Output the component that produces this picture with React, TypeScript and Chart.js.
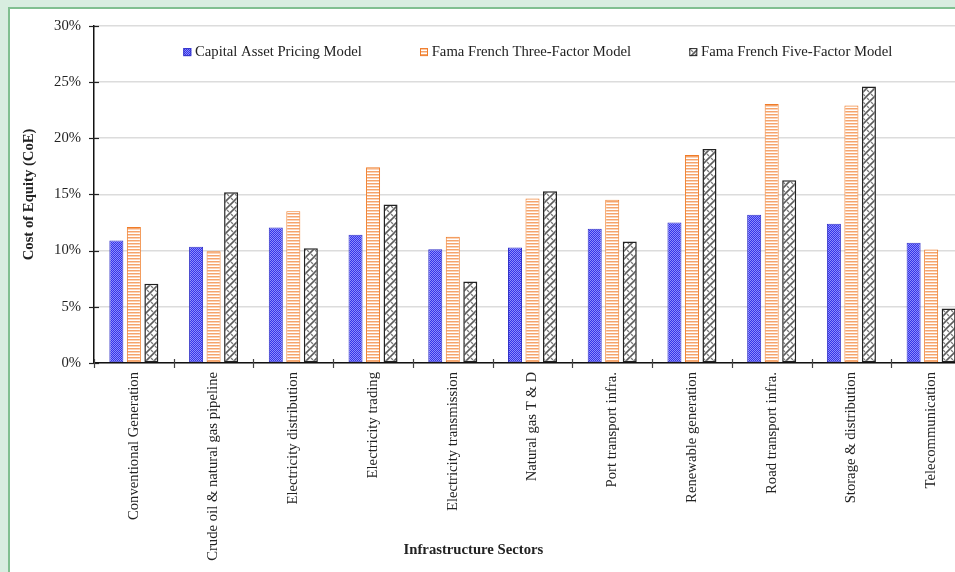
import React, { useEffect, useRef } from "react";
import { Chart, registerables } from "chart.js";
Chart.register(...registerables);

const categories = [
  "Conventional Generation",
  "Crude oil & natural gas pipeline",
  "Electricity distribution",
  "Electricity trading",
  "Electricity transmission",
  "Natural gas T & D",
  "Port transport infra.",
  "Renewable generation",
  "Road transport infra.",
  "Storage & distribution",
  "Telecommunication",
];
const seriesNames = [
  "Capital Asset Pricing Model",
  "Fama French Three-Factor Model",
  "Fama French Five-Factor Model",
];
const capm = [10.9, 10.35, 12.05, 11.42, 10.12, 10.27, 11.95, 12.5, 13.2, 12.4, 10.7];
const ff3 = [12.1, 9.95, 13.5, 17.42, 11.24, 14.64, 14.53, 18.5, 23.05, 22.9, 10.1];
const ff5 = [7.05, 15.2, 10.2, 14.11, 7.25, 15.29, 10.8, 19.05, 16.25, 24.6, 4.85];
const yTicks = [0, 5, 10, 15, 20, 25, 30];
const xTitle = "Infrastructure Sectors";
const yTitle = "Cost of Equity (CoE)";

const FONT = "'Liberation Serif', 'Times New Roman', serif";

function makePattern(kind: string): CanvasPattern | string {
  const c = document.createElement("canvas");
  const g = c.getContext("2d")!;
  if (kind === "blue") {
    c.width = 2; c.height = 2;
    g.fillStyle = "#3434e8"; g.fillRect(0, 0, 2, 2);
    g.fillStyle = "#8c8cfc"; g.fillRect(1, 0, 1, 1); g.fillRect(0, 1, 1, 1);
  } else if (kind === "orange") {
    c.width = 1; c.height = 3;
    g.fillStyle = "#ffffff"; g.fillRect(0, 0, 1, 3);
    g.fillStyle = "#f5a46c"; g.fillRect(0, 0, 1, 1);
    g.fillStyle = "#fbd3b8"; g.fillRect(0, 1, 1, 1);
  } else {
    c.width = 8; c.height = 8;
    g.fillStyle = "#ffffff"; g.fillRect(0, 0, 8, 8);
    g.strokeStyle = "#5c5c5c"; g.lineWidth = 1.6;
    g.beginPath();
    g.moveTo(0, 8); g.lineTo(8, 0);
    g.moveTo(-2, 2); g.lineTo(2, -2);
    g.moveTo(6, 10); g.lineTo(10, 6);
    g.stroke();
    g.lineWidth = 1.2;
    g.strokeStyle = "#7a7a7a";
    g.beginPath();
    g.moveTo(1, 1); g.lineTo(3, 3);
    g.moveTo(5, 5); g.lineTo(7, 7);
    g.stroke();
  }
  return g.createPattern(c, "repeat") || "#888";
}

export default function App() {
  const ref = useRef<HTMLCanvasElement>(null);
  useEffect(() => {
    const canvas = ref.current!;
    const fills = [makePattern("blue"), makePattern("orange"), makePattern("black")];
    const borders = ["#3232c8", "#f07c28", "#222222"];
    const seriesData = [capm, ff3, ff5];

    const decor = {
      id: "decor",
      afterDraw(chart: any) {
        const ctx = chart.ctx as CanvasRenderingContext2D;
        const a = chart.chartArea;
        const ys = chart.scales.y;
        ctx.save();
        ctx.strokeStyle = "#222";
        ctx.lineWidth = 1.2;
        for (const v of yTicks) {
          const y = Math.round(ys.getPixelForValue(v)) + 0.5;
          ctx.beginPath();
          ctx.moveTo(a.left - 5, y);
          ctx.lineTo(a.left + 5, y);
          ctx.stroke();
        }
        const cw = (a.right - a.left) / categories.length;
        ctx.strokeStyle = "#444";
        for (let i = 0; i <= categories.length; i++) {
          const x = Math.round(a.left + i * cw) + 0.5;
          ctx.beginPath();
          ctx.moveTo(x, a.bottom - 4);
          ctx.lineTo(x, a.bottom + 5);
          ctx.stroke();
        }
        const offs = [89.3, 326, 595.3];
        ctx.font = `14.7px ${FONT}`;
        ctx.textBaseline = "middle";
        ctx.textAlign = "left";
        for (let i = 0; i < 3; i++) {
          const bx = a.left + offs[i];
          const by = a.top + 22.3;
          ctx.fillStyle = fills[i] as any;
          ctx.fillRect(bx, by, 8, 8);
          ctx.strokeStyle = borders[i];
          ctx.lineWidth = 1;
          ctx.strokeRect(bx + 0.5, by + 0.5, 7, 7);
          ctx.fillStyle = "#222";
          ctx.fillText(seriesNames[i], bx + 11.7, by + 4.5);
        }
        ctx.font = `bold 14.7px ${FONT}`;
        ctx.fillStyle = "#222";
        ctx.textAlign = "center";
        ctx.fillText(xTitle, a.left + 379.4, 541.7);
        ctx.translate(19.5, (a.top + a.bottom) / 2);
        ctx.rotate(-Math.PI / 2);
        ctx.fillText(yTitle, 0, 0);
        ctx.restore();
      },
    };

    const chart = new Chart(canvas, {
      type: "bar",
      data: {
        labels: categories,
        datasets: seriesData.map((d, i) => ({
          label: seriesNames[i],
          data: d,
          backgroundColor: fills[i] as any,
          borderColor: borders[i],
          borderWidth: i === 2 ? 1.5 : 1,
          borderSkipped: false,
          categoryPercentage: 0.659,
          barPercentage: 0.8,
        })),
      },
      options: {
        responsive: false,
        devicePixelRatio: 1,
        animation: false,
        layout: { padding: { top: 16, right: 39, left: 0, bottom: 0 } },
        plugins: { legend: { display: false }, tooltip: { enabled: false }, title: { display: false } },
        scales: {
          x: {
            grid: { display: true, drawOnChartArea: false, drawTicks: true, tickLength: 6, tickColor: "transparent", offset: true },
            border: { display: true, color: "#111", width: 1.5 },
            ticks: {
              minRotation: 90,
              maxRotation: 90,
              autoSkip: false,
              padding: 3,
              color: "#222",
              font: { family: FONT, size: 14.7 },
            },
            afterFit: (s: any) => { s.height = 216; },
          },
          y: {
            min: 0,
            max: 30,
            afterBuildTicks: (s: any) => { s.ticks = yTicks.map((v) => ({ value: v })); },
            ticks: {
              padding: 8,
              color: "#222",
              font: { family: FONT, size: 14.7 },
              callback: (v: any) => `${v}%`,
            },
            grid: { color: "#dcdcdc", lineWidth: 1.5, drawTicks: true, tickLength: 5, tickColor: "transparent" },
            border: { display: true, color: "#111", width: 1.5 },
            afterFit: (s: any) => { s.width = 84; },
          },
        },
      },
      plugins: [decor],
    } as any);
    return () => chart.destroy();
  }, []);

  return (
    <div style={{ position: "fixed", left: 0, top: 0, width: "100vw", height: "100vh", background: "#d8ede0", overflow: "hidden" }}>
      <div style={{ position: "absolute", left: 8, top: 7, width: 1100, height: 700, background: "#ffffff", border: "2px solid #80bf90" }}>
        <canvas ref={ref} width={1000} height={570} style={{ display: "block", width: 1000, height: 570 }} />
      </div>
    </div>
  );
}
